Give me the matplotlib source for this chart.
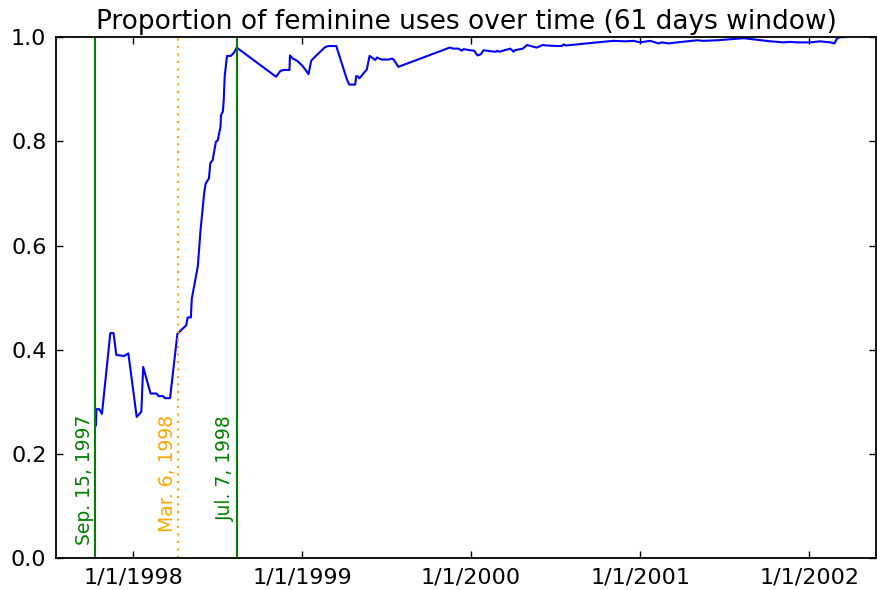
import numpy as np
import pandas as pd
import matplotlib
matplotlib.use('Agg')
import matplotlib.pyplot as plt
import matplotlib.dates as mdates
from matplotlib.ticker import FuncFormatter

plt.rcParams.update({'font.size': 16, 'xtick.direction': 'in', 'ytick.direction': 'in',
                     'xtick.top': True, 'ytick.right': True})

# 61-day window proportion
dates = ['1997-10-13', '1997-10-14', '1997-10-20', '1997-10-26', '1997-11-13', '1997-11-20',
         '1997-11-26', '1997-12-13', '1997-12-22', '1998-01-09', '1998-01-19', '1998-01-23',
         '1998-02-08', '1998-02-21', '1998-02-25', '1998-03-07', '1998-03-11', '1998-03-22',
         '1998-04-07', '1998-04-26', '1998-04-29', '1998-05-06', '1998-05-08', '1998-05-21',
         '1998-05-27', '1998-06-04', '1998-06-07', '1998-06-14', '1998-06-17', '1998-06-22',
         '1998-06-29', '1998-07-03', '1998-07-09', '1998-07-10', '1998-07-14', '1998-07-16',
         '1998-07-18', '1998-07-23', '1998-07-31', '1998-08-07', '1998-08-13', '1998-11-06',
         '1998-11-15', '1998-11-22', '1998-12-05', '1998-12-06', '1998-12-12', '1998-12-21',
         '1999-01-01', '1999-01-08', '1999-01-15', '1999-01-21', '1999-01-31', '1999-02-20',
         '1999-02-27', '1999-03-16', '1999-04-08', '1999-04-13', '1999-04-26', '1999-04-28',
         '1999-05-01', '1999-05-05', '1999-05-21', '1999-05-27', '1999-06-01', '1999-06-08',
         '1999-06-12', '1999-06-22', '1999-07-07', '1999-07-14', '1999-07-18', '1999-07-28',
         '1999-11-16', '1999-11-24', '1999-12-05', '1999-12-12', '1999-12-16', '1999-12-30',
         '2000-01-08', '2000-01-15', '2000-01-22', '2000-01-28', '2000-02-12', '2000-02-24',
         '2000-02-27', '2000-03-02', '2000-03-18', '2000-03-26', '2000-04-02', '2000-04-05',
         '2000-04-22', '2000-05-01', '2000-05-09', '2000-05-22', '2000-06-04', '2000-06-13',
         '2000-07-04', '2000-07-15', '2000-07-19', '2000-07-24', '2000-09-29', '2000-11-04',
         '2000-11-29', '2000-12-17', '2000-12-31', '2001-01-22', '2001-02-09', '2001-02-16',
         '2001-03-03', '2001-03-21', '2001-05-03', '2001-05-17', '2001-06-15', '2001-07-14',
         '2001-08-12', '2001-09-10', '2001-10-09', '2001-11-06', '2001-11-20', '2001-12-05',
         '2002-01-02', '2002-01-24', '2002-02-15', '2002-02-24', '2002-03-01', '2002-03-08',
         '2002-03-19']
prop = [0.255, 0.286, 0.286, 0.277, 0.432, 0.432, 0.390, 0.388, 0.393, 0.271, 0.281, 0.367,
        0.316, 0.316, 0.311, 0.311, 0.307, 0.307, 0.431, 0.447, 0.462, 0.462, 0.498, 0.560,
        0.631, 0.703, 0.719, 0.729, 0.758, 0.764, 0.799, 0.802, 0.828, 0.850, 0.857, 0.879,
        0.924, 0.964, 0.964, 0.970, 0.980, 0.924, 0.935, 0.937, 0.937, 0.965, 0.959, 0.955,
        0.946, 0.938, 0.929, 0.955, 0.964, 0.981, 0.983, 0.983, 0.919, 0.909, 0.909, 0.925,
        0.925, 0.921, 0.938, 0.964, 0.961, 0.956, 0.961, 0.957, 0.957, 0.959, 0.957, 0.943,
        0.980, 0.978, 0.978, 0.974, 0.977, 0.975, 0.974, 0.965, 0.967, 0.975, 0.973, 0.972,
        0.974, 0.972, 0.976, 0.978, 0.972, 0.975, 0.978, 0.985, 0.983, 0.980, 0.985, 0.984,
        0.983, 0.983, 0.986, 0.984, 0.990, 0.993, 0.992, 0.993, 0.990, 0.993, 0.988, 0.990,
        0.988, 0.990, 0.994, 0.993, 0.994, 0.996, 0.998, 0.995, 0.992, 0.990, 0.991, 0.990,
        0.990, 0.992, 0.990, 0.988, 0.997, 1.000, 1.000]

# events: label, where the marker line sits, colour, style
event_labels = ['Sep. 15, 1997', 'Mar. 6, 1998', 'Jul. 7, 1998']
event_pos = ['1997-10-12', '1998-04-08', '1998-08-13']
event_colors = ['green', 'orange', 'green']
event_styles = ['-', (0, (1, 2.6)), '-']

x = pd.to_datetime(dates)

fig = plt.figure(figsize=(8.77, 5.9), dpi=100)
ax = fig.add_axes([0.064, 0.054, 0.935, 0.883])

ax.plot(x, prop, color='b', lw=1.5)

for lab, pos, c, ls in zip(event_labels, event_pos, event_colors, event_styles):
    d = pd.Timestamp(pos)
    ax.axvline(d, color=c, linestyle=ls, lw=1.5)
    ax.text(d - pd.Timedelta(days=3), 0.275, lab, color=c, rotation=90,
            ha='right', va='top', fontsize=13.5)

ax.set_xlim(pd.Timestamp('1997-07-19'), pd.Timestamp('2002-05-25'))
ax.set_ylim(0, 1)
ax.set_yticks(np.arange(0, 1.01, 0.2))
ax.xaxis.set_major_locator(mdates.YearLocator())
ax.xaxis.set_major_formatter(FuncFormatter(
    lambda v, p: '{d.month}/{d.day}/{d.year}'.format(d=mdates.num2date(v))))
ax.tick_params(length=5, width=1, pad=7)
for s in ax.spines.values():
    s.set_linewidth(1.3)

ax.set_title('Proportion of feminine uses over time (61 days window)', fontsize=19)

fig.savefig('out.png', dpi=100)
